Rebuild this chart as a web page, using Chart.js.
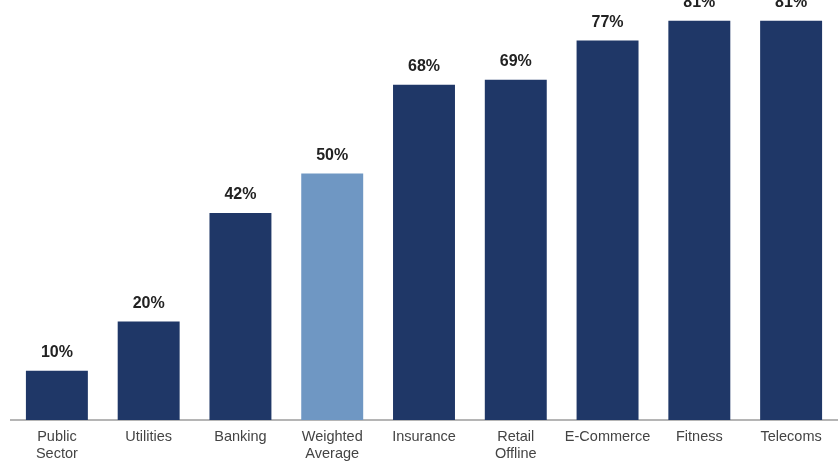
<!DOCTYPE html>
<html>
<head>
<meta charset="utf-8">
<script src="https://cdn.jsdelivr.net/npm/chart.js@4"></script>
<style>
  body { margin: 0; background: #fff; }
  #wrap { width: 838px; height: 464px; }
</style>
</head>
<body>
<div id="wrap"><canvas id="sectorChart"></canvas></div>
<script>
const categories = [['Public', 'Sector'], 'Utilities', 'Banking', ['Weighted', 'Average'], 'Insurance', ['Retail', 'Offline'], 'E-Commerce', 'Fitness', 'Telecoms'];
const values = [10, 20, 42, 50, 68, 69, 77, 81, 81];
const barColors = ['#1f3767', '#1f3767', '#1f3767', '#6f97c3', '#1f3767', '#1f3767', '#1f3767', '#1f3767', '#1f3767'];

// percent labels above each bar
const valueLabels = {
  id: 'valueLabels',
  afterDatasetsDraw(chart) {
    const c = chart.ctx;
    const meta = chart.getDatasetMeta(0);
    c.save();
    c.font = 'bold 16px "Liberation Sans", Arial, sans-serif';
    c.fillStyle = '#222';
    c.textAlign = 'center';
    c.textBaseline = 'middle';
    meta.data.forEach((bar, i) => {
      c.fillText(values[i] + '%', bar.x, bar.y - 18);
    });
    c.restore();
  }
};

const ctx = document.getElementById('sectorChart').getContext('2d');

new Chart(ctx, {
  type: 'bar',
  data: {
    labels: categories,
    datasets: [{
      data: values,
      backgroundColor: barColors,
      barPercentage: 0.675,
      categoryPercentage: 1
    }]
  },
  options: {
    responsive: true,
    maintainAspectRatio: false,
    animation: false,
    layout: { padding: { left: 11, right: 1, top: 0, bottom: 0 } },
    plugins: {
      legend: { display: false },
      tooltip: { enabled: false }
    },
    scales: {
      x: {
        grid: { display: false, drawTicks: false },
        border: { display: true, color: '#b5b5b5', width: 2 },
        ticks: {
          color: '#444',
          padding: 9,
          maxRotation: 0,
          autoSkip: false,
          font: { family: '"Liberation Sans", Arial, sans-serif', size: 14.5, lineHeight: 1.15 }
        },
        afterFit(scale) { scale.height = 44; }
      },
      y: {
        display: false,
        min: 0,
        max: 85.2
      }
    }
  },
  plugins: [valueLabels]
});
</script>
</body>
</html>
